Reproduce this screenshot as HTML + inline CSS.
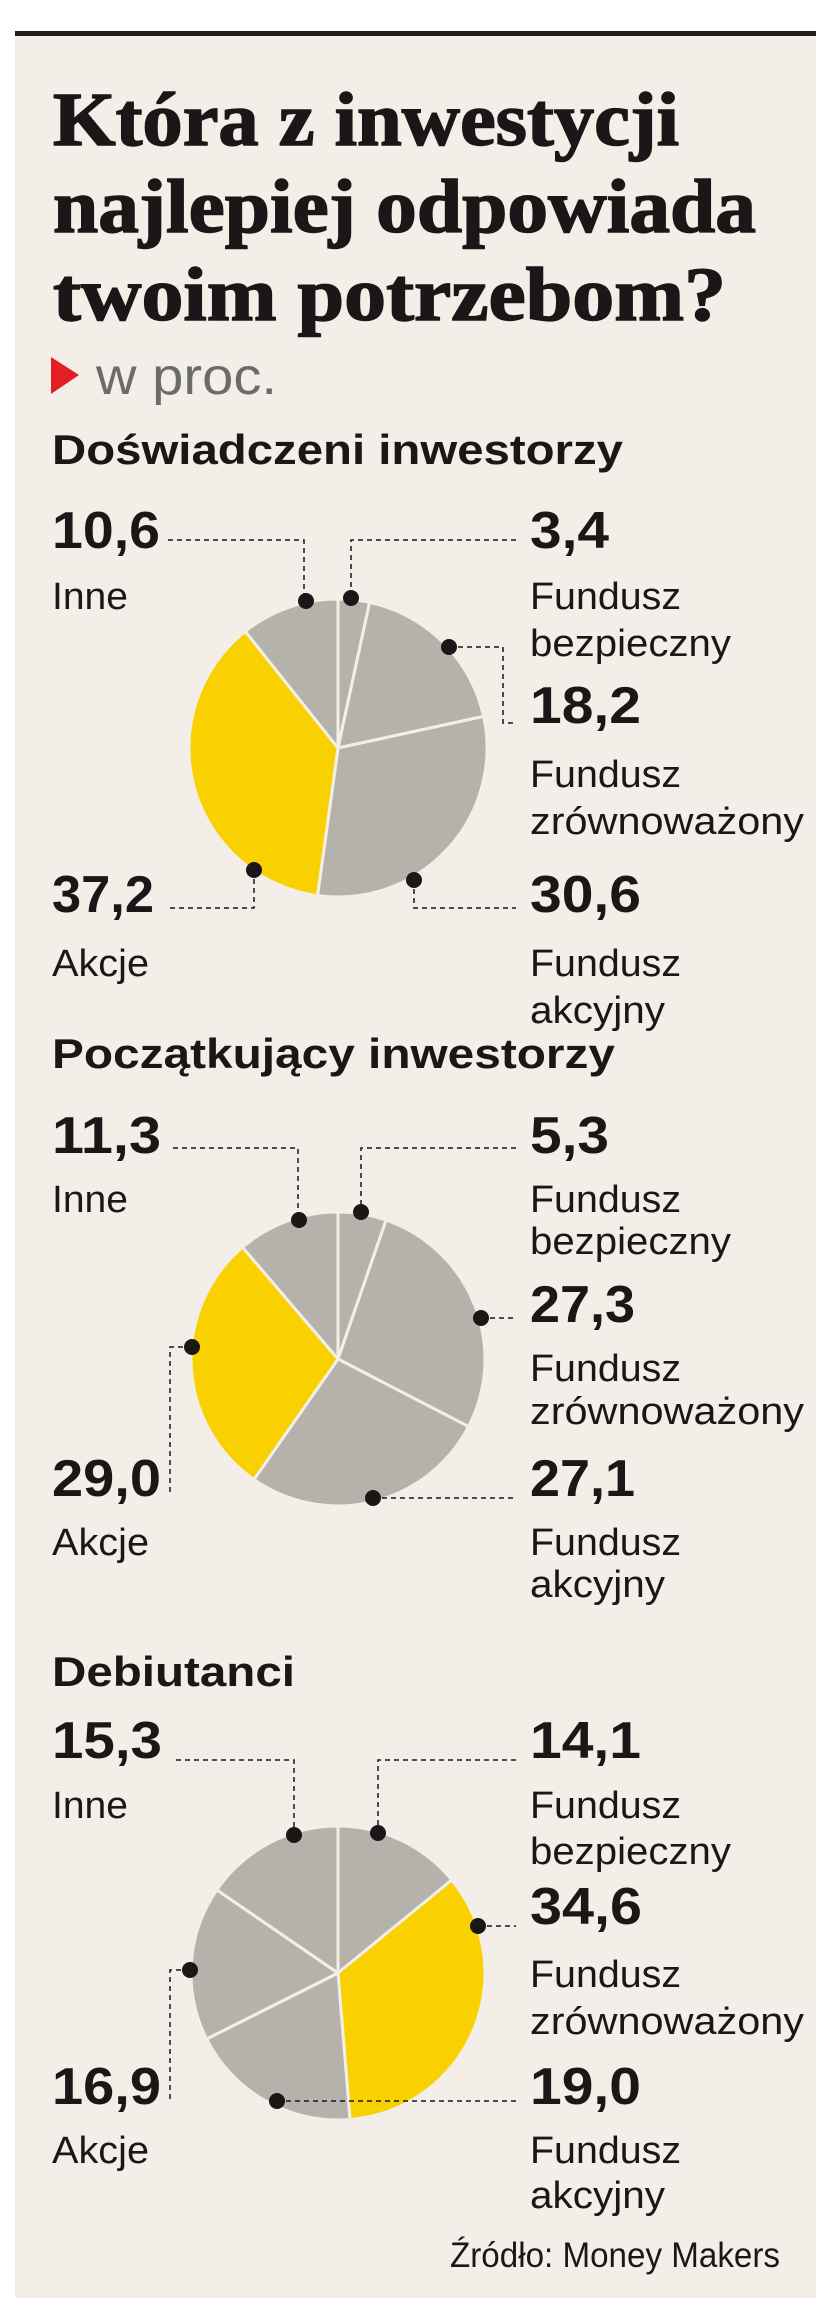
<!DOCTYPE html>
<html><head><meta charset="utf-8"><style>html,body{margin:0;padding:0;background:#fff}svg{display:block}</style></head><body>
<svg width="825" height="2321" viewBox="0 0 825 2321" xmlns="http://www.w3.org/2000/svg">
<rect x="15" y="34" width="801" height="2264" fill="#f3efe8"/>
<rect x="15" y="31" width="801" height="5" fill="#231f20"/>
<g font-family="Liberation Serif, serif" font-weight="bold" fill="#1a1718" stroke="#1a1718" stroke-width="1.5" font-size="76">
<text x="53" y="145" textLength="626" lengthAdjust="spacingAndGlyphs">Która z inwestycji</text>
<text x="53" y="232" textLength="703" lengthAdjust="spacingAndGlyphs">najlepiej odpowiada</text>
<text x="53" y="320" textLength="673" lengthAdjust="spacingAndGlyphs">twoim potrzebom?</text>
</g>
<polygon points="51,357 79,375 51,394" fill="#e31e24"/>
<text x="96" y="394" font-family="Liberation Sans, sans-serif" font-size="52" fill="#6b6b6b" textLength="181" lengthAdjust="spacingAndGlyphs">w proc.</text>
<g font-family="Liberation Sans, sans-serif" font-weight="bold" fill="#1a1718" font-size="42">
<text x="52" y="464" textLength="571" lengthAdjust="spacingAndGlyphs">Doświadczeni inwestorzy</text>
<text x="52" y="1068" textLength="563" lengthAdjust="spacingAndGlyphs">Początkujący inwestorzy</text>
<text x="52" y="1686" textLength="243" lengthAdjust="spacingAndGlyphs">Debiutanci</text>
</g>
<g font-family="Liberation Sans, sans-serif" font-weight="bold" fill="#1a1718" font-size="52">
<text x="52" y="548" textLength="108" lengthAdjust="spacingAndGlyphs">10,6</text>
<text x="530" y="548" textLength="79" lengthAdjust="spacingAndGlyphs">3,4</text>
<text x="530" y="723" textLength="111" lengthAdjust="spacingAndGlyphs">18,2</text>
<text x="52" y="912" textLength="102" lengthAdjust="spacingAndGlyphs">37,2</text>
<text x="530" y="912" textLength="111" lengthAdjust="spacingAndGlyphs">30,6</text>
<text x="52" y="1153" textLength="109" lengthAdjust="spacingAndGlyphs">11,3</text>
<text x="530" y="1153" textLength="79" lengthAdjust="spacingAndGlyphs">5,3</text>
<text x="530" y="1322" textLength="105" lengthAdjust="spacingAndGlyphs">27,3</text>
<text x="52" y="1496" textLength="109" lengthAdjust="spacingAndGlyphs">29,0</text>
<text x="530" y="1496" textLength="105" lengthAdjust="spacingAndGlyphs">27,1</text>
<text x="52" y="1758" textLength="110" lengthAdjust="spacingAndGlyphs">15,3</text>
<text x="530" y="1758" textLength="111" lengthAdjust="spacingAndGlyphs">14,1</text>
<text x="530" y="1924" textLength="112" lengthAdjust="spacingAndGlyphs">34,6</text>
<text x="52" y="2104" textLength="109" lengthAdjust="spacingAndGlyphs">16,9</text>
<text x="530" y="2104" textLength="111" lengthAdjust="spacingAndGlyphs">19,0</text>
</g>
<g font-family="Liberation Sans, sans-serif" fill="#1a1718" font-size="38">
<text x="52" y="609" textLength="76" lengthAdjust="spacingAndGlyphs">Inne</text>
<text x="530" y="609" textLength="151" lengthAdjust="spacingAndGlyphs">Fundusz</text>
<text x="530" y="656" textLength="201" lengthAdjust="spacingAndGlyphs">bezpieczny</text>
<text x="530" y="787" textLength="151" lengthAdjust="spacingAndGlyphs">Fundusz</text>
<text x="530" y="834" textLength="274" lengthAdjust="spacingAndGlyphs">zrównoważony</text>
<text x="52" y="976" textLength="97" lengthAdjust="spacingAndGlyphs">Akcje</text>
<text x="530" y="976" textLength="151" lengthAdjust="spacingAndGlyphs">Fundusz</text>
<text x="530" y="1023" textLength="135" lengthAdjust="spacingAndGlyphs">akcyjny</text>

<text x="52" y="1212" textLength="76" lengthAdjust="spacingAndGlyphs">Inne</text>
<text x="530" y="1212" textLength="151" lengthAdjust="spacingAndGlyphs">Fundusz</text>
<text x="530" y="1254" textLength="201" lengthAdjust="spacingAndGlyphs">bezpieczny</text>
<text x="530" y="1381" textLength="151" lengthAdjust="spacingAndGlyphs">Fundusz</text>
<text x="530" y="1424" textLength="274" lengthAdjust="spacingAndGlyphs">zrównoważony</text>
<text x="52" y="1555" textLength="97" lengthAdjust="spacingAndGlyphs">Akcje</text>
<text x="530" y="1555" textLength="151" lengthAdjust="spacingAndGlyphs">Fundusz</text>
<text x="530" y="1597" textLength="135" lengthAdjust="spacingAndGlyphs">akcyjny</text>

<text x="52" y="1818" textLength="76" lengthAdjust="spacingAndGlyphs">Inne</text>
<text x="530" y="1818" textLength="151" lengthAdjust="spacingAndGlyphs">Fundusz</text>
<text x="530" y="1864" textLength="201" lengthAdjust="spacingAndGlyphs">bezpieczny</text>
<text x="530" y="1987" textLength="151" lengthAdjust="spacingAndGlyphs">Fundusz</text>
<text x="530" y="2034" textLength="274" lengthAdjust="spacingAndGlyphs">zrównoważony</text>
<text x="52" y="2163" textLength="97" lengthAdjust="spacingAndGlyphs">Akcje</text>
<text x="530" y="2163" textLength="151" lengthAdjust="spacingAndGlyphs">Fundusz</text>
<text x="530" y="2208" textLength="135" lengthAdjust="spacingAndGlyphs">akcyjny</text>
<text x="450" y="2267" font-size="35" textLength="330" lengthAdjust="spacingAndGlyphs">Źródło: Money Makers</text>
</g>

<g stroke="#f3efe8" stroke-width="3" stroke-linejoin="round">
<path d="M338,748 L338,599 A149,149 0 0 1 369.6,602.4 Z" fill="#b5b2ab"/>
<path d="M338,748 L369.6,602.4 A149,149 0 0 1 483.6,716.4 Z" fill="#b5b2ab"/>
<path d="M338,748 L483.6,716.4 A149,149 0 0 1 317.5,895.6 Z" fill="#b5b2ab"/>
<path d="M338,748 L317.5,895.6 A149,149 0 0 1 245.2,631.4 Z" fill="#f9d000"/>
<path d="M338,748 L245.2,631.4 A149,149 0 0 1 338,599 Z" fill="#b5b2ab"/>
<path d="M338,1359 L338,1212 A147,147 0 0 1 386.1,1220.1 Z" fill="#b5b2ab"/>
<path d="M338,1359 L386.1,1220.1 A147,147 0 0 1 468.5,1426.6 Z" fill="#b5b2ab"/>
<path d="M338,1359 L468.5,1426.6 A147,147 0 0 1 253.9,1479.5 Z" fill="#b5b2ab"/>
<path d="M338,1359 L253.9,1479.5 A147,147 0 0 1 242.5,1247.2 Z" fill="#f9d000"/>
<path d="M338,1359 L242.5,1247.2 A147,147 0 0 1 338,1212 Z" fill="#b5b2ab"/>
<path d="M338,1973 L338,1826 A147,147 0 0 1 451.8,1880 Z" fill="#b5b2ab"/>
<path d="M338,1973 L451.8,1880 A147,147 0 0 1 350,2119.5 Z" fill="#f9d000"/>
<path d="M338,1973 L350,2119.5 A147,147 0 0 1 206.6,2039 Z" fill="#b5b2ab"/>
<path d="M338,1973 L206.6,2039 A147,147 0 0 1 216.8,1889.9 Z" fill="#b5b2ab"/>
<path d="M338,1973 L216.8,1889.9 A147,147 0 0 1 338,1826 Z" fill="#b5b2ab"/>
</g>

<g fill="none" stroke="#1a1718" stroke-width="1.5" stroke-dasharray="5,4">
<polyline points="168,540 304,540 304,601"/>
<polyline points="516,540 351,540 351,598"/>
<polyline points="449,647 503,647 503,723 516,723"/>
<polyline points="414,880 414,908 516,908"/>
<polyline points="254,870 254,908 168,908"/>
<polyline points="173,1148 298,1148 298,1220"/>
<polyline points="516,1148 361,1148 361,1212"/>
<polyline points="481,1318 516,1318"/>
<polyline points="373,1498 516,1498"/>
<polyline points="192,1347 170,1347 170,1496"/>
<polyline points="176,1760 294,1760 294,1835"/>
<polyline points="516,1760 378,1760 378,1833"/>
<polyline points="478,1926 516,1926"/>
<polyline points="277,2101 516,2101"/>
<polyline points="190,1970 170,1970 170,2100"/>
</g>
<g fill="#1a1718">
<circle cx="306" cy="601" r="8"/><circle cx="351" cy="598" r="8"/><circle cx="449" cy="647" r="8"/><circle cx="414" cy="880" r="8"/><circle cx="254" cy="870" r="8"/>
<circle cx="299" cy="1220" r="8"/><circle cx="361" cy="1212" r="8"/><circle cx="481" cy="1318" r="8"/><circle cx="373" cy="1498" r="8"/><circle cx="192" cy="1347" r="8"/>
<circle cx="294" cy="1835" r="8"/><circle cx="378" cy="1833" r="8"/><circle cx="478" cy="1926" r="8"/><circle cx="277" cy="2101" r="8"/><circle cx="190" cy="1970" r="8"/>
</g>
</svg>
</body></html>
